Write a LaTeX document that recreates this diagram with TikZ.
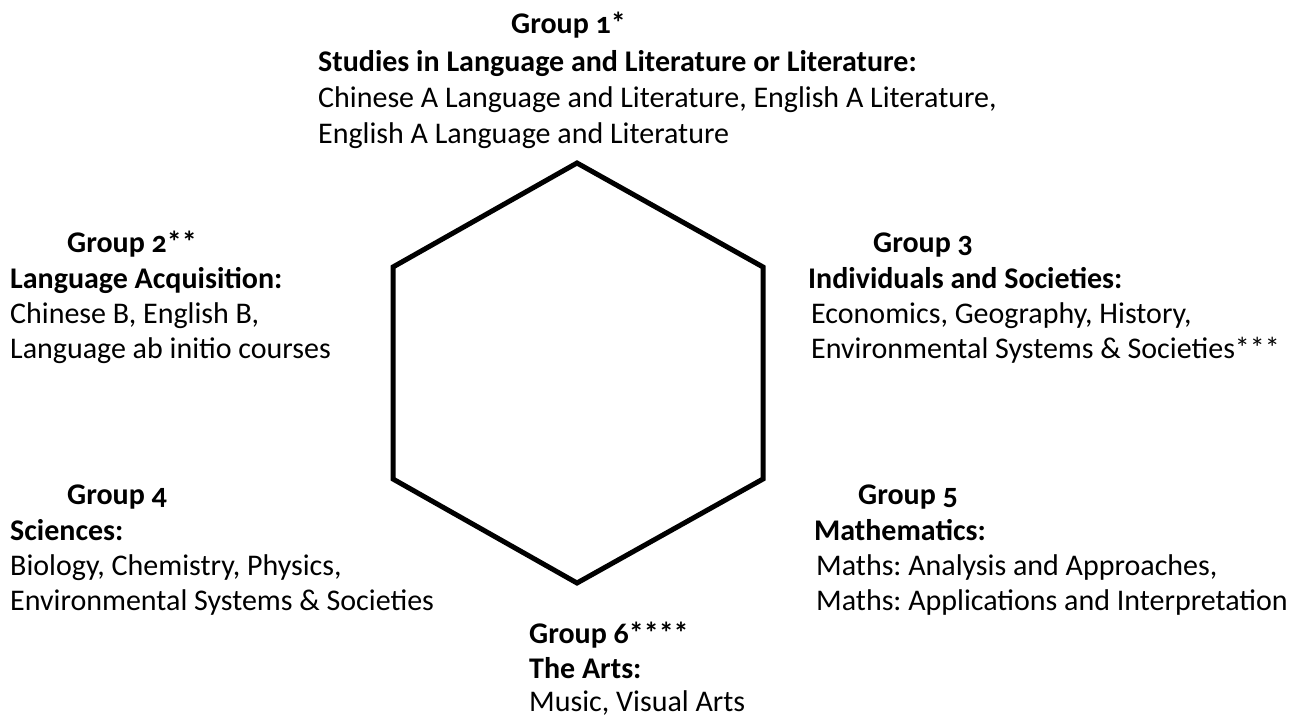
\documentclass[tikz,border=0pt]{standalone}
\usepackage{fontspec}
\setmainfont{Carlito}[Numbers=OldStyle]
\frenchspacing
\begin{document}
\begin{tikzpicture}[x=1pt,y=-1pt,
  txt/.style={anchor=base west,inner sep=0pt,font=\fontsize{30}{34}\selectfont},
  hd/.style={txt,font=\fontsize{30}{34}\selectfont\bfseries},
  hexline/.style={line width=5pt,line join=miter}]
\useasboundingbox (0,0) rectangle (1291,720);
% hexagon
\coordinate (h1) at (577,163);
\coordinate (h2) at (763,267);
\coordinate (h3) at (763,479);
\coordinate (h4) at (577,583);
\coordinate (h5) at (393,479);
\coordinate (h6) at (393,267);
\draw[hexline] (h1) -- (h2) -- (h3) -- (h4) -- (h5) -- (h6) -- cycle;
% Group 1
\node[hd] (g1h) at (511,34) {Group 1*};
\node[hd] (g1t) at (318,71) {Studies in Language and Literature or Literature:};
\node[txt] (g1a) at (318,107) {Chinese A Language and Literature, English A Literature,};
\node[txt] (g1b) at (318,143) {English A Language and Literature};
% Group 2
\node[hd] (g2h) at (67,252) {Group 2**};
\node[hd] (g2t) at (10,288) {Language Acquisition:};
\node[txt] (g2a) at (10,323) {Chinese B, English B,};
\node[txt] (g2b) at (10,358) {Language ab initio courses};
% Group 3
\node[hd] (g3h) at (873,252) {Group 3};
\node[hd] (g3t) at (808,288) {Individuals and Societies:};
\node[txt] (g3a) at (811,323) {Economics, Geography, History,};
\node[txt] (g3b) at (811,358) {Environmental Systems \& Societies***};
% Group 4
\node[hd] (g4h) at (67,504) {Group 4};
\node[hd] (g4t) at (10,540) {Sciences:};
\node[txt] (g4a) at (10,575) {Biology, Chemistry, Physics,};
\node[txt] (g4b) at (10,610) {Environmental Systems \& Societies};
% Group 5
\node[hd] (g5h) at (858,504) {Group 5};
\node[hd] (g5t) at (814,540) {Mathematics:};
\node[txt] (g5a) at (816,575) {Maths: Analysis and Approaches,};
\node[txt] (g5b) at (816,610) {Maths: Applications and Interpretation};
% Group 6
\node[hd] (g6h) at (529,643) {Group 6****};
\node[hd] (g6t) at (529,678) {The Arts:};
\node[txt] (g6a) at (529,711) {Music, Visual Arts};
\end{tikzpicture}
\end{document}
